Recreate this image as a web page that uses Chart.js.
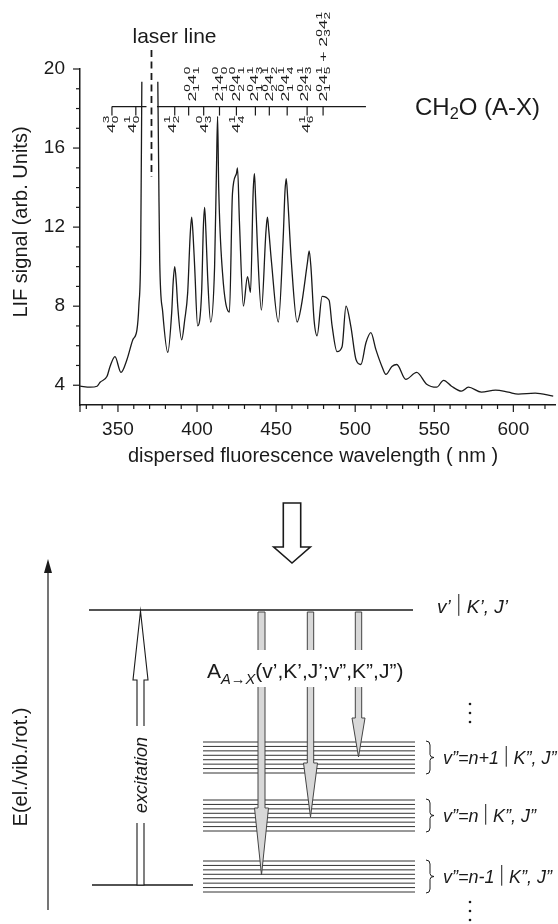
<!DOCTYPE html>
<html>
<head>
<meta charset="utf-8">
<script src="https://cdn.jsdelivr.net/npm/chart.js"></script>
<style>
    html, body { margin: 0; padding: 0; background: #fff; }
    #wrap { width: 558px; height: 924px; position: relative; }
</style>
</head>
<body>
<div id="wrap"><canvas id="myChart"></canvas></div>
<script>
// dispersed LIF spectrum of CH2O (null = laser line gap)
const wavelength = [
    326.1, 332.4, 336.8, 338.7, 343.1, 345.0, 348.1, 351.9, 355.7, 359.4,
    362.0, 363.2, 364.4, 365.1, 370.0, 375.2, 375.8, 376.4, 378.3, 381.5,
    384.0, 384.9, 385.9, 386.9, 387.8, 390.3, 392.2, 394.1, 395.6, 396.6,
    397.5, 398.5, 400.4, 402.9, 404.0, 404.8, 405.6, 406.7, 408.6, 411.1,
    412.3, 413.0, 413.7, 416.1, 420.5, 422.4, 424.9, 425.6, 426.8, 429.3,
    431.9, 433.8, 435.5, 436.3, 437.0, 438.2, 440.7, 443.6, 444.5, 445.4,
    447.0, 451.4, 454.5, 455.6, 456.4, 457.3, 459.6, 463.3, 465.9, 469.8,
    470.9, 472.0, 474.0, 475.9, 479.1, 483.5, 485.4, 488.5, 491.7, 494.2,
    497.3, 500.5, 503.6, 506.8, 509.9, 513.1, 516.9, 519.4, 523.2, 526.3,
    532.0, 538.9, 545.2, 551.5, 555.9, 560.9, 567.2, 571.6, 579.8, 588.7,
    596.8, 603.1, 613.8, 625.2
];
const signal = [
    3.95, 3.90, 3.95, 4.15, 4.45, 4.95, 5.45, 4.65, 5.30, 6.30,
    6.80, 8.00, 11.0, 19.35, null, 19.35, 14.5, 10.3, 7.70, 5.66,
    7.70, 9.20, 10.0, 9.20, 8.00, 6.30, 7.30, 8.70, 11.5, 12.5,
    11.6, 10.0, 7.00, 8.70, 12.0, 13.0, 11.8, 9.50, 7.20, 10.0,
    15.0, 17.6, 14.0, 9.70, 7.70, 13.7, 14.7, 15.0, 12.3, 8.00,
    9.50, 8.70, 13.8, 14.7, 13.5, 11.0, 7.80, 11.8, 12.5, 11.8,
    10.3, 7.20, 11.5, 13.8, 14.45, 13.5, 10.3, 7.20, 8.00, 10.2,
    10.8, 10.0, 7.30, 6.50, 8.50, 8.30, 7.00, 5.70, 5.95, 8.00,
    6.95, 5.30, 5.05, 6.15, 6.66, 5.80, 4.95, 4.55, 4.95, 5.05,
    4.30, 4.65, 4.05, 3.90, 4.25, 3.95, 3.70, 3.90, 3.65, 3.75,
    3.65, 3.55, 3.60, 3.45
];

const xTicks = [350, 400, 450, 500, 550, 600];
const yTicks = [4, 8, 12, 16, 20];

const laserLine = 371.2;
const barLevel = 18.1;
const barTicks = [346.2, 361.3, 385.9, 394.7, 404.2, 414.2, 424.9, 436.9, 445.7, 457.0, 469.6, 479.7];
const lowerNm = [345.6, 358.8, 384.0, 404.2, 424.9, 469.0];
const lowerLabels = ['4_0^3', '4_0^1', '4_2^1', '4_3^0', '4_4^1', '4_6^1'];
const upperNm = [396.6, 414.2, 424.9, 436.3, 445.7, 455.8, 467.7, 479.7];
const upperLabels = [
    '2_1^0 4_1^0', '2_1^1 4_0^0', '2_2^0 4_1^0', '2_1^0 4_3^1',
    '2_2^0 4_2^1', '2_1^0 4_4^1', '2_2^0 4_3^1', '2_1^0 4_5^1 + 2_3^0 4_2^1'
];

const FONT = '"Liberation Sans", Arial, Helvetica, sans-serif';
const INK = '#1a1a1a';

function font(size, italic) {
    return (italic ? 'italic ' : '') + size + 'px ' + FONT;
}

function parseAssign(str) {
    return str.split(' ').map(tok => {
        if (tok === '+') return { t: ' + ' };
        const m = tok.match(/^(\d)_(\d)\^(\d)$/);
        return { t: m[1], sub: m[2], sup: m[3] };
    });
}

// text with stacked sub/superscripts, '|' draws a thin bar
function drawRich(ctx, parts, x, y, fs, align, italic, o) {
    o = Object.assign({ ss: 0.72, subDy: 0.22, supDy: 0.42, bar: 0.5 }, o || {});
    const ss = fs * o.ss;
    let w = 0;
    const items = parts.map(p => {
        if (p === '|') { const it = { bar: true, x: w }; w += fs * o.bar; return it; }
        if (typeof p === 'string') p = { t: p };
        const it = italic;
        ctx.font = font(fs, it);
        const item = { p, x: w, it };
        w += ctx.measureText(p.t || '').width;
        item.sx = w;
        ctx.font = font(ss, p.subIt !== undefined ? p.subIt : it);
        w += Math.max(p.sub ? ctx.measureText(p.sub).width : 0, p.sup ? ctx.measureText(p.sup).width : 0);
        return item;
    });
    const x0 = align === 'right' ? x - w : align === 'center' ? x - w / 2 : x;
    ctx.textAlign = 'left';
    ctx.textBaseline = 'alphabetic';
    for (const item of items) {
        if (item.bar) {
            ctx.lineWidth = 1;
            const bx = x0 + item.x + fs * o.bar / 2;
            line(ctx, bx, y - fs * 1.0, bx, y + fs * 0.15);
            continue;
        }
        const p = item.p;
        ctx.font = font(fs, item.it);
        ctx.fillText(p.t || '', x0 + item.x, y);
        ctx.font = font(ss, p.subIt !== undefined ? p.subIt : item.it);
        if (p.sub) ctx.fillText(p.sub, x0 + item.sx, y + fs * o.subDy);
        if (p.sup) ctx.fillText(p.sup, x0 + item.sx, y - fs * o.supDy);
    }
    return w;
}

function line(ctx, x1, y1, x2, y2) {
    ctx.beginPath();
    ctx.moveTo(x1, y1);
    ctx.lineTo(x2, y2);
    ctx.stroke();
}

function arrow(ctx, cx, start, base, tip, sh, hh, fill, stroke, lw) {
    ctx.save();
    ctx.beginPath();
    ctx.moveTo(cx - sh, start);
    ctx.lineTo(cx - sh, base);
    ctx.lineTo(cx - hh, base);
    ctx.lineTo(cx, tip);
    ctx.lineTo(cx + hh, base);
    ctx.lineTo(cx + sh, base);
    ctx.lineTo(cx + sh, start);
    ctx.closePath();
    ctx.fillStyle = fill;
    ctx.fill();
    ctx.strokeStyle = stroke;
    ctx.lineWidth = lw;
    ctx.stroke();
    ctx.restore();
}

function brace(ctx, x, top, bottom) {
    const mid = (top + bottom) / 2;
    ctx.beginPath();
    ctx.moveTo(x, top);
    ctx.quadraticCurveTo(x + 4, top, x + 4, top + 4);
    ctx.lineTo(x + 4, mid - 3);
    ctx.quadraticCurveTo(x + 4, mid, x + 8, mid);
    ctx.quadraticCurveTo(x + 4, mid, x + 4, mid + 3);
    ctx.lineTo(x + 4, bottom - 4);
    ctx.quadraticCurveTo(x + 4, bottom, x, bottom);
    ctx.stroke();
}

function vdots(ctx, x, y) {
    for (let i = 0; i < 3; i++) {
        ctx.beginPath();
        ctx.arc(x, y + i * 9, 1.3, 0, 2 * Math.PI);
        ctx.fill();
    }
}

function rotatedRich(ctx, parts, x, y, align) {
    ctx.save();
    ctx.translate(x, y);
    ctx.rotate(-Math.PI / 2);
    ctx.scale(1.6, 1);
    drawRich(ctx, parts, 0, 11 * 0.36, 11, align, false, { ss: 0.78, subDy: 0.3, supDy: 0.5 });
    ctx.restore();
}

const decor = {
    id: 'decor',
    afterDraw(chart) {
        const ctx = chart.ctx;
        const xs = chart.scales.x, ys = chart.scales.y;
        const area = chart.chartArea;
        ctx.save();
        ctx.strokeStyle = INK;
        ctx.fillStyle = INK;

        // axis ticks, long at labelled values
        ctx.lineWidth = 1.2;
        for (let v = 330; v <= 620; v += 10) {
            const px = xs.getPixelForValue(v);
            line(ctx, px, area.bottom, px, area.bottom + (xTicks.includes(v) ? 7 : 4));
        }
        for (let v = 4; v <= 20; v++) {
            const py = ys.getPixelForValue(v);
            line(ctx, area.left - (yTicks.includes(v) ? 7 : 4), py, area.left, py);
        }
        line(ctx, area.left, area.bottom, area.left, area.bottom + 7);

        // axis titles
        ctx.font = font(20);
        ctx.textAlign = 'center';
        ctx.textBaseline = 'alphabetic';
        ctx.fillText('dispersed fluorescence wavelength ( nm )', 313, 462);
        ctx.save();
        ctx.translate(27, 222);
        ctx.rotate(-Math.PI / 2);
        ctx.fillText('LIF signal (arb. Units)', 0, 0);
        ctx.restore();

        // laser line
        const lx = xs.getPixelForValue(laserLine);
        ctx.lineWidth = 1.8;
        ctx.setLineDash([7, 4.5]);
        line(ctx, lx, 50, lx, 177);
        ctx.setLineDash([]);
        ctx.font = font(21);
        ctx.textAlign = 'center';
        ctx.fillText('laser line', lx + 23, 43);

        // assignment comb
        const by = ys.getPixelForValue(barLevel);
        ctx.lineWidth = 1.2;
        line(ctx, xs.getPixelForValue(barTicks[0]), by, lx - 5, by);
        line(ctx, lx + 5.5, by, xs.getPixelForValue(506.8), by);
        barTicks.forEach(v => {
            const px = xs.getPixelForValue(v);
            line(ctx, px, by, px, by + 9);
        });
        lowerLabels.forEach((s, i) => rotatedRich(ctx, parseAssign(s), xs.getPixelForValue(lowerNm[i]), by + 9, 'right'));
        upperLabels.forEach((s, i) => rotatedRich(ctx, parseAssign(s), xs.getPixelForValue(upperNm[i]), by - 5, 'left'));

        drawRich(ctx, [{ t: 'CH', sub: '2' }, 'O (A-X)'], 415, 115, 24, 'left', false, { ss: 0.68, subDy: 0.16 });

        drawScheme(ctx);
        ctx.restore();
    }
};

function drawScheme(ctx) {
    ctx.strokeStyle = INK;
    ctx.fillStyle = INK;

    arrow(ctx, 292, 503, 547, 563, 8.7, 18.3, '#fff', INK, 1.6);

    // energy axis
    ctx.lineWidth = 1.2;
    line(ctx, 48, 910, 48, 570);
    ctx.beginPath();
    ctx.moveTo(48, 559);
    ctx.lineTo(52, 573);
    ctx.lineTo(44, 573);
    ctx.closePath();
    ctx.fill();
    ctx.save();
    ctx.translate(27, 767);
    ctx.rotate(-Math.PI / 2);
    ctx.font = font(20);
    ctx.textAlign = 'center';
    ctx.fillText('E(el./vib./rot.)', 0, 0);
    ctx.restore();

    // levels
    ctx.lineWidth = 1.6;
    line(ctx, 89, 610, 413, 610);
    line(ctx, 92, 885, 193, 885);
    ctx.lineWidth = 1;
    ctx.strokeStyle = '#333';
    const groupTops = [742, 800, 861];
    groupTops.forEach(top => {
        for (let i = 0; i < 8; i++) line(ctx, 203, top + i * 4.43, 415, top + i * 4.43);
    });

    // excitation
    arrow(ctx, 140.5, 885, 680, 611, 3.5, 7.5, '#fff', INK, 1.1);
    ctx.fillStyle = '#fff';
    ctx.fillRect(132, 726, 18, 97);
    ctx.fillStyle = INK;
    ctx.save();
    ctx.translate(147, 775);
    ctx.rotate(-Math.PI / 2);
    ctx.font = font(18, true);
    ctx.textAlign = 'center';
    ctx.fillText('excitation', 0, 0);
    ctx.restore();

    // emission
    arrow(ctx, 261.5, 612, 808, 875, 3.5, 7, '#d8d8d8', '#444', 1);
    arrow(ctx, 310.5, 612, 763, 817, 3.2, 7, '#d8d8d8', '#444', 1);
    arrow(ctx, 358.5, 612, 718, 757, 3.2, 6.5, '#d8d8d8', '#444', 1);
    ctx.fillStyle = '#fff';
    ctx.fillRect(205, 650, 208, 37);
    ctx.fillStyle = INK;
    ctx.strokeStyle = INK;
    drawRich(ctx, [{ t: 'A', sub: 'A\u2192X', subIt: true }, '(v\u2019,K\u2019,J\u2019;v\u201d,K\u201d,J\u201d)'], 207, 678, 21, 'left', false, { ss: 0.7, subDy: 0.3 });

    // level labels
    drawRich(ctx, ['v\u2019', '|', 'K\u2019, J\u2019'], 437, 613, 19, 'left', true, { bar: 0.85 });
    vdots(ctx, 470, 704);
    const names = ['n+1', 'n', 'n-1'];
    ctx.lineWidth = 1;
    groupTops.forEach((top, i) => {
        brace(ctx, 426, top - 1, top + 32);
        drawRich(ctx, ['v\u201d=' + names[i], '|', 'K\u201d, J\u201d'], 443, top + 22, 18, 'left', true, { bar: 0.8 });
    });
    vdots(ctx, 470, 902);
}

const ctx = document.getElementById('myChart').getContext('2d');
const myChart = new Chart(ctx, {
    type: 'line',
    data: {
        datasets: [{
            data: wavelength.map((x, i) => ({ x, y: signal[i] })),
            borderColor: INK,
            borderWidth: 1.3,
            pointRadius: 0,
            cubicInterpolationMode: 'monotone',
            spanGaps: false
        }]
    },
    options: {
        animation: false,
        responsive: true,
        maintainAspectRatio: false,
        layout: { padding: { top: 69, left: 0, right: 1, bottom: 455 } },
        plugins: { legend: { display: false }, tooltip: { enabled: false } },
        scales: {
            x: {
                type: 'linear',
                min: 326,
                max: 626.4,
                grid: { display: false, drawTicks: false },
                border: { color: INK, width: 1.5 },
                ticks: {
                    stepSize: 10,
                    includeBounds: false,
                    autoSkip: false,
                    maxRotation: 0,
                    padding: 13,
                    color: INK,
                    font: { family: FONT, size: 19 },
                    callback: v => xTicks.includes(v) ? v : ''
                },
                afterFit: s => { s.height = 64; }
            },
            y: {
                min: 3,
                max: 20,
                grid: { display: false, drawTicks: false },
                border: { color: INK, width: 1.5 },
                ticks: {
                    stepSize: 1,
                    includeBounds: false,
                    autoSkip: false,
                    padding: 15,
                    color: INK,
                    font: { family: FONT, size: 19 },
                    callback: v => yTicks.includes(v) ? v : ''
                },
                afterFit: s => { s.width = 80; }
            }
        }
    },
    plugins: [decor]
});
</script>
</body>
</html>
